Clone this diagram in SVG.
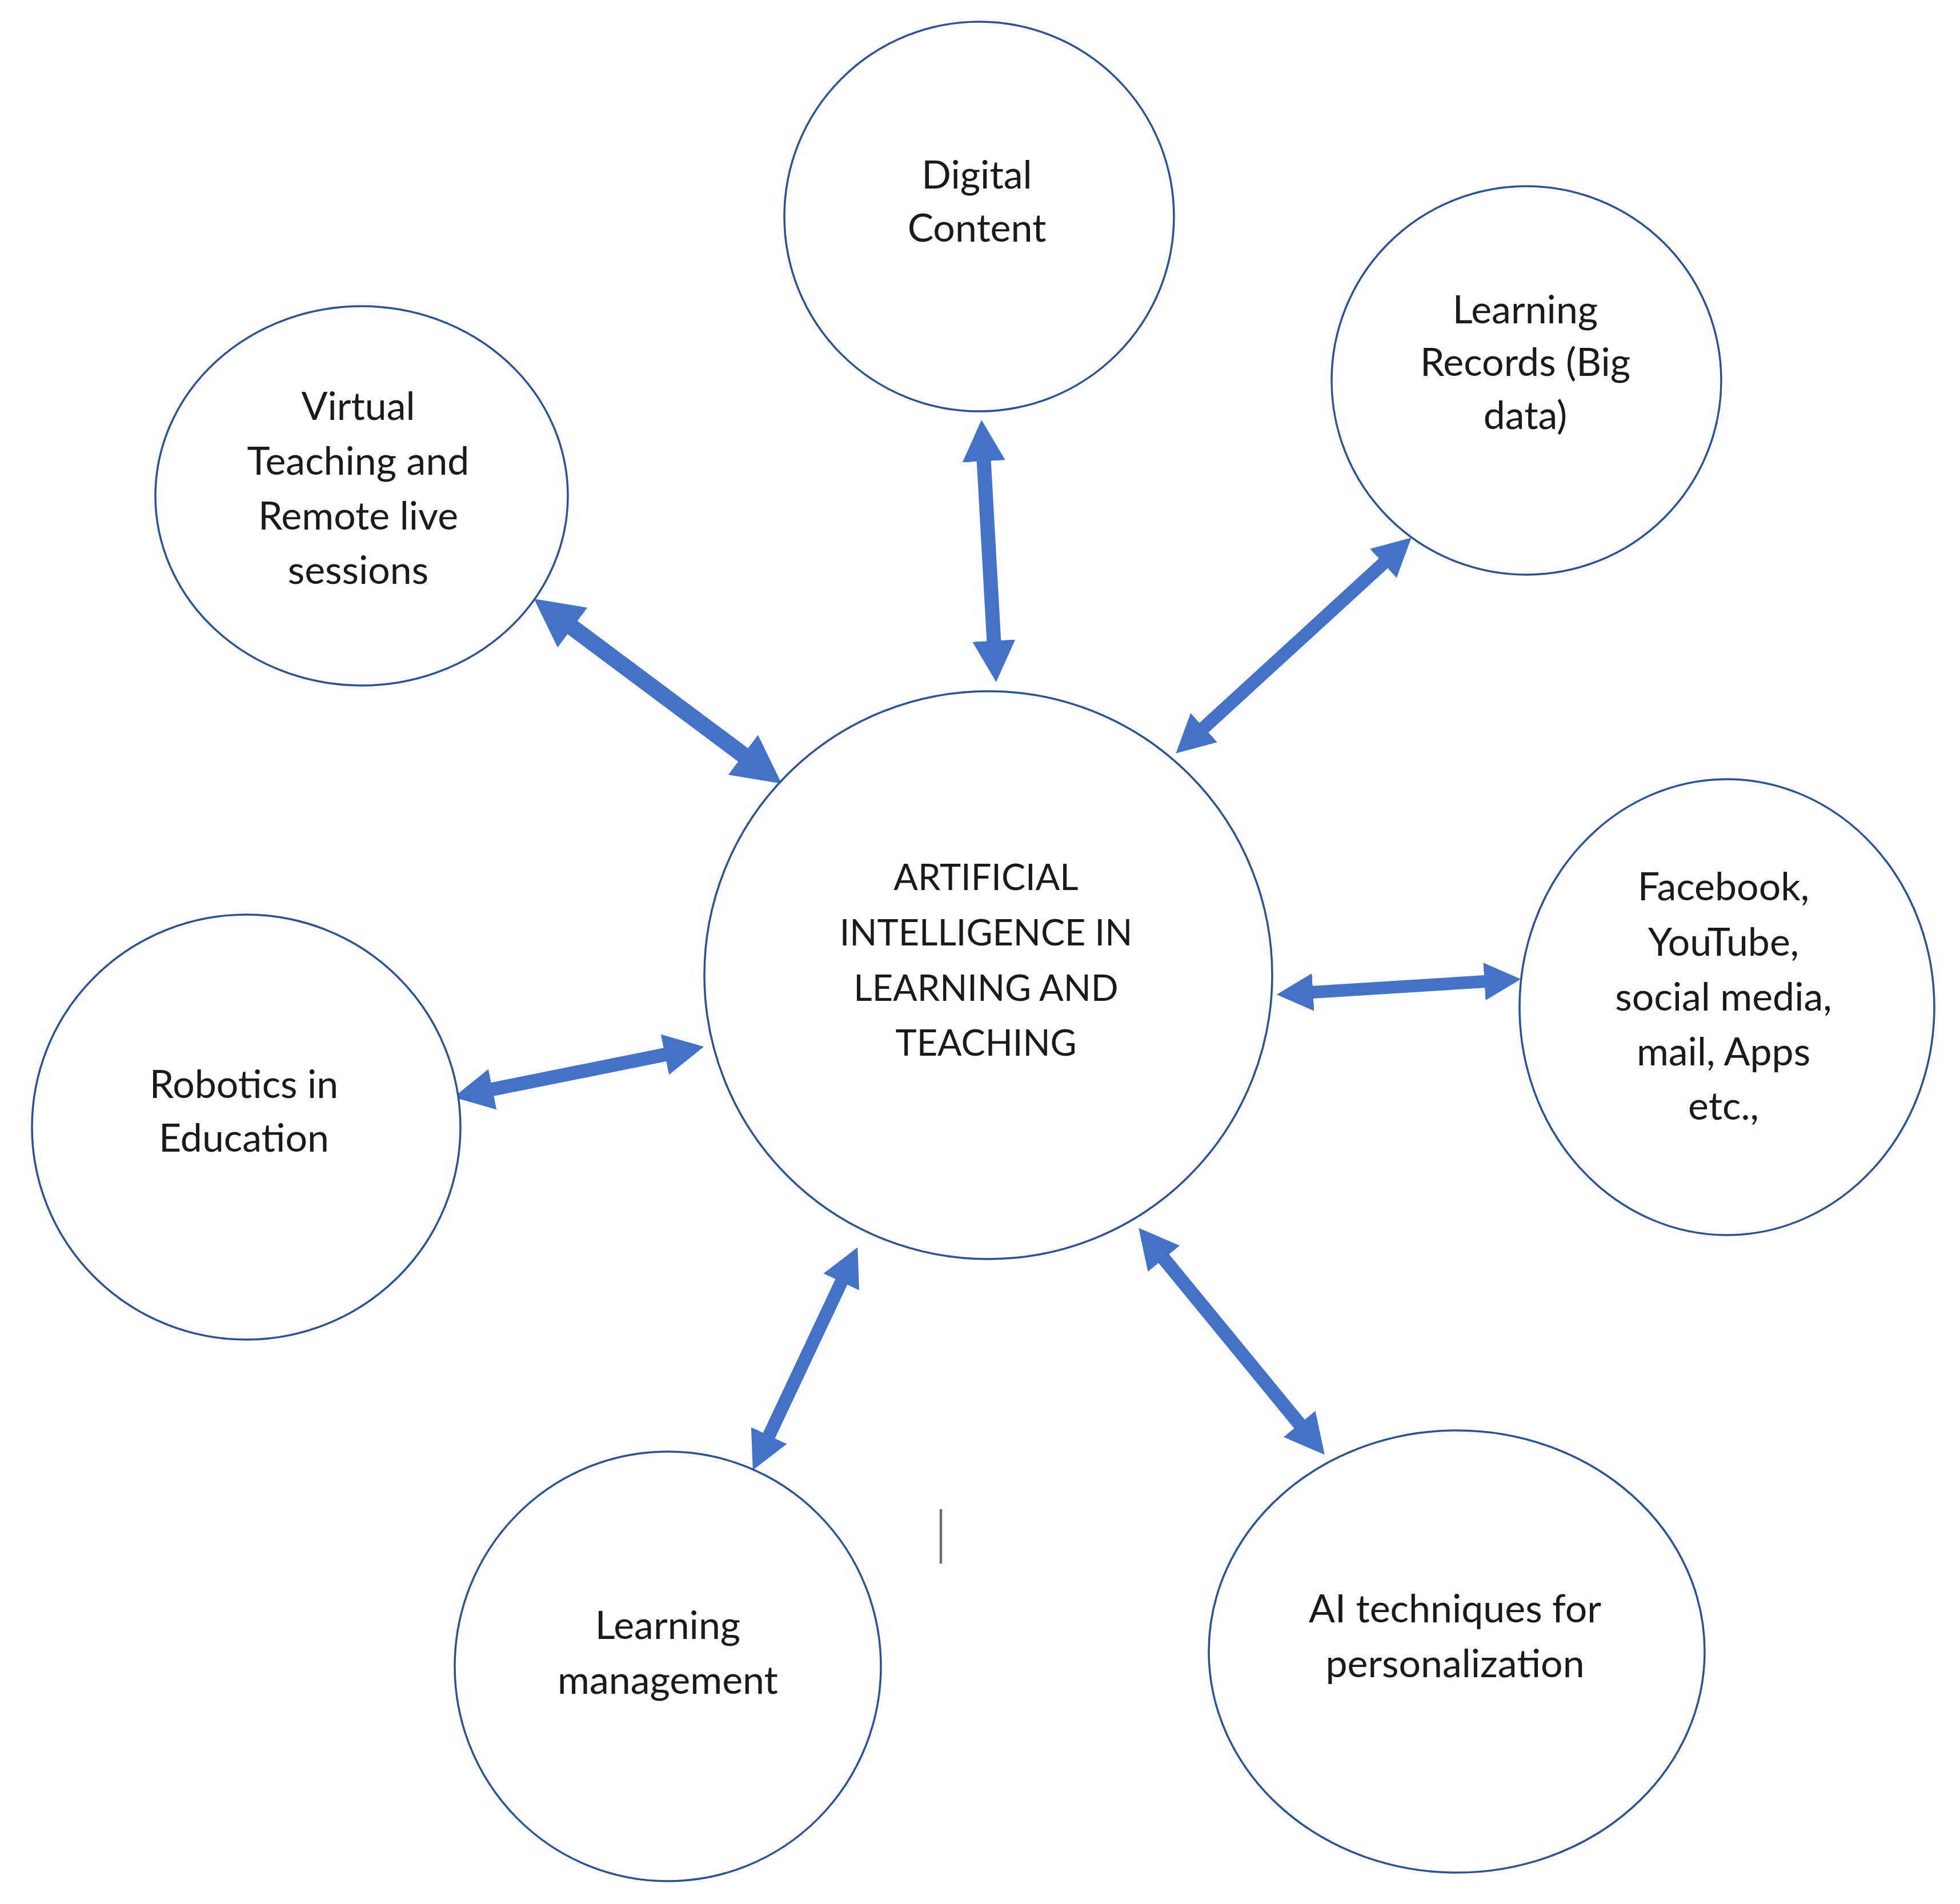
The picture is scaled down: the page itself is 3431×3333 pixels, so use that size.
<svg xmlns="http://www.w3.org/2000/svg" width="3431" height="3333" viewBox="0 0 3431 3333">
<style>
.node{fill:#ffffff;stroke:#2F528F;stroke-width:3.5}
.lbl{font-family:Lato,"Open Sans","Liberation Sans",sans-serif;font-size:68px;fill:#1a1a1a;text-anchor:middle}
.caps{font-size:63px}
.arr{stroke:#4472C4;fill:none;marker-start:url(#head);marker-end:url(#head)}
</style>
<defs>
<marker id="head" viewBox="0 0 3 3" markerUnits="strokeWidth" markerWidth="3" markerHeight="3" refX="0.08" refY="1.5" orient="auto-start-reverse">
<path d="M0,0 L2.9,1.5 L0,3 z" fill="#4472C4"/>
</marker>
</defs>
<rect width="3431" height="3333" fill="#ffffff"/>
<g id="connectors">
<line class="arr" x1="1722.1" y1="805.4" x2="1739.9" y2="1123.6" stroke-width="25"/>
<line class="arr" x1="1000.3" y1="1097.2" x2="1302.7" y2="1322.8" stroke-width="29"/>
<line class="arr" x1="2422.8" y1="985" x2="2106.2" y2="1275" stroke-width="23"/>
<line class="arr" x1="2296.7" y1="1737" x2="2600.3" y2="1718" stroke-width="22"/>
<line class="arr" x1="860.2" y1="1907.3" x2="1165.8" y2="1845.7" stroke-width="24"/>
<line class="arr" x1="1473.6" y1="2242.3" x2="1345.4" y2="2514.7" stroke-width="23"/>
<line class="arr" x1="2036.1" y1="2201.8" x2="2275.9" y2="2494.2" stroke-width="24"/>
</g>
<g id="center">
<ellipse class="node" cx="1730" cy="1707" rx="497" ry="497"/>
<text class="lbl caps" x="1726" y="1558">ARTIFICIAL</text>
<text class="lbl caps" x="1726" y="1655">INTELLIGENCE IN</text>
<text class="lbl caps" x="1726" y="1752">LEARNING AND</text>
<text class="lbl caps" x="1726" y="1848">TEACHING</text>
</g>
<g id="digital-content">
<ellipse class="node" cx="1714" cy="379" rx="341" ry="341"/>
<text class="lbl" x="1710" y="330">Digital</text>
<text class="lbl" x="1710" y="423">Content</text>
</g>
<g id="learning-records">
<ellipse class="node" cx="2672" cy="666" rx="341" ry="340"/>
<text class="lbl" x="2670" y="566">Learning</text>
<text class="lbl" x="2670" y="658">Records (Big</text>
<text class="lbl" x="2670" y="751">data)</text>
</g>
<g id="virtual-teaching">
<ellipse class="node" cx="633" cy="868" rx="361" ry="332"/>
<text class="lbl" x="627" y="735">Virtual</text>
<text class="lbl" x="627" y="831">Teaching and</text>
<text class="lbl" x="627" y="927">Remote live</text>
<text class="lbl" x="627" y="1022">sessions</text>
</g>
<g id="social-media">
<ellipse class="node" cx="3023" cy="1763" rx="363" ry="399"/>
<text class="lbl" x="3017" y="1576">Facebook,</text>
<text class="lbl" x="3017" y="1673">YouTube,</text>
<text class="lbl" x="3017" y="1769">social media,</text>
<text class="lbl" x="3017" y="1865">mail, Apps</text>
<text class="lbl" x="3017" y="1960">etc.,</text>
</g>
<g id="robotics">
<ellipse class="node" cx="431" cy="1973" rx="375" ry="372"/>
<text class="lbl" x="427" y="1922">Robotics in</text>
<text class="lbl" x="427" y="2016">Education</text>
</g>
<g id="learning-management">
<ellipse class="node" cx="1169" cy="2917" rx="373" ry="376"/>
<text class="lbl" x="1169" y="2869">Learning</text>
<text class="lbl" x="1169" y="2965">management</text>
</g>
<g id="ai-techniques">
<ellipse class="node" cx="2550" cy="2891" rx="434" ry="387"/>
<text class="lbl" x="2547" y="2840">AI techniques for</text>
<text class="lbl" x="2547" y="2936">personalization</text>
</g>
<line x1="1647" y1="2642" x2="1647" y2="2737" stroke="#6d6d6d" stroke-width="4.5"/>
</svg>
